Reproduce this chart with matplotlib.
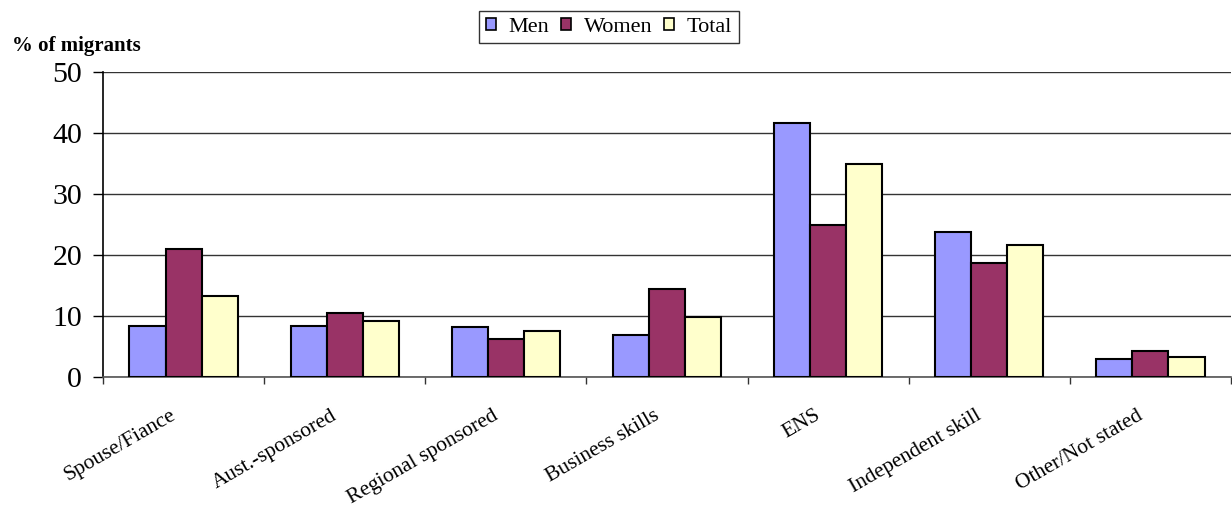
import matplotlib
matplotlib.use("Agg")
import matplotlib.pyplot as plt
import numpy as np

categories = ["Spouse/Fiance", "Aust.-sponsored", "Regional sponsored",
              "Business skills", "ENS", "Independent skill", "Other/Not stated"]
men = [8.4, 8.3, 8.2, 6.9, 41.7, 23.7, 3.0]
women = [21.0, 10.5, 6.2, 14.4, 24.9, 18.7, 4.3]
total = [13.2, 9.2, 7.5, 9.9, 34.9, 21.7, 3.3]
series_names = ["Men", "Women", "Total"]
series_colors = ["#9999FF", "#993366", "#FFFFCC"]
yticks = [0, 10, 20, 30, 40, 50]

plt.rcParams["font.family"] = ["Liberation Serif", "DejaVu Serif"]

fig = plt.figure(figsize=(12.32, 5.18), dpi=100)
ax = fig.add_axes([103 / 1232, 1 - 377 / 518, 1128 / 1232, 305 / 518])

x = np.arange(len(categories))
w = 0.224
for i, (vals, name, col) in enumerate(zip([men, women, total], series_names, series_colors)):
    ax.bar(x + (i - 1) * w, vals, width=w, color=col, edgecolor="black",
           linewidth=1.5, label=name, zorder=3)

ax.set_xlim(-0.5, len(categories) - 0.5)
ax.set_ylim(0, 50)
ax.set_yticks(yticks)
ax.set_yticklabels([str(t) for t in yticks], fontsize=21.5)
ax.yaxis.grid(True, color="#333333", linewidth=1.0, zorder=0)
ax.set_axisbelow(True)

# category boundary ticks on the x axis, labels placed at group centres
ax.set_xticks(np.arange(len(categories) + 1) - 0.5)
ax.set_xticklabels([])
ax.tick_params(axis="x", direction="out", length=5, width=1, color="#333333")
ax.tick_params(axis="y", direction="out", length=7, width=1, pad=8)
for xi, lab in zip(x, categories):
    ax.annotate(lab, xy=(xi, 0), xycoords=("data", "axes fraction"),
                xytext=(-10, -21), textcoords="offset points",
                rotation=30, ha="right", va="top", rotation_mode="anchor",
                fontsize=15.5)

for side in ["top", "right"]:
    ax.spines[side].set_visible(False)
ax.spines["left"].set_color("black")
ax.spines["left"].set_linewidth(1.2)
ax.spines["bottom"].set_color("#555555")
ax.spines["bottom"].set_linewidth(1.2)

fig.text(12 / 1232, 1 - 46 / 518, "% of migrants", fontsize=15, fontweight="bold",
         va="center", ha="left")

leg = fig.legend(loc="center", bbox_to_anchor=(609 / 1232, 1 - 27 / 518), ncol=3,
                 fontsize=16, frameon=True, fancybox=False, edgecolor="black",
                 handlelength=0.45, handleheight=0.45, handletextpad=0.55,
                 columnspacing=0.55, borderpad=0.3, borderaxespad=0)
leg.get_frame().set_linewidth(1.0)
for h in leg.legend_handles:
    h.set_linewidth(1.2)

fig.savefig("out.png", dpi=100)
